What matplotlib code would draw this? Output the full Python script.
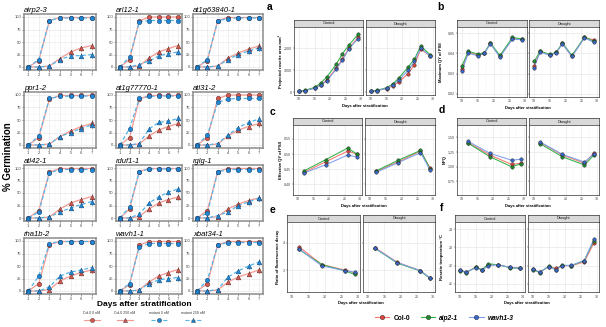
import matplotlib.pyplot as plt
from matplotlib.lines import Line2D
from matplotlib.ticker import MultipleLocator

plt.rcParams['font.family'] = ['Liberation Sans', 'DejaVu Sans']

W, H = 606, 327

# ---------------- germination data (left block) ----------------
days = [1, 2, 3, 4, 5, 6, 7]
genes = ['airp2-3', 'arl12-1', 'at1g63840-1',
         'ppr1-2', 'at1g77770-1', 'atl31-2',
         'atl42-1', 'rduf1-1', 'rglg-1',
         'rha1b-2', 'wavh1-1', 'xbat34-1']

col0_0nm = [
    [0, 13, 93, 99, 99, 99, 99], [0, 15, 92, 100, 100, 100, 100], [0, 13, 93, 99, 99, 99, 99],
    [0, 15, 92, 99, 99, 99, 99], [0, 15, 92, 99, 99, 99, 99], [0, 15, 93, 100, 100, 100, 100],
    [0, 15, 92, 99, 99, 99, 99], [0, 18, 93, 99, 99, 99, 99], [0, 15, 93, 99, 99, 99, 99],
    [0, 15, 93, 99, 99, 99, 99], [0, 13, 92, 99, 99, 99, 99], [0, 15, 92, 99, 99, 99, 99]]
col0_250nm = [
    [0, 0, 2, 17, 30, 38, 43], [0, 0, 2, 18, 30, 37, 43], [0, 0, 2, 18, 28, 36, 42],
    [0, 0, 2, 17, 28, 37, 43], [0, 0, 2, 18, 30, 37, 43], [0, 0, 2, 18, 30, 37, 43],
    [0, 0, 2, 18, 30, 37, 43], [0, 0, 3, 18, 30, 37, 42], [0, 0, 3, 18, 28, 35, 40],
    [0, 0, 3, 20, 30, 37, 42], [0, 0, 2, 18, 30, 37, 43], [0, 0, 2, 18, 28, 35, 42]]
mut_0nm = [
    [0, 15, 93, 98, 98, 98, 98], [0, 20, 90, 93, 93, 93, 93], [0, 15, 92, 97, 98, 98, 98],
    [0, 18, 93, 97, 98, 98, 98], [0, 33, 93, 97, 98, 98, 98], [0, 20, 85, 92, 93, 93, 93],
    [0, 12, 90, 97, 97, 97, 97], [0, 22, 93, 98, 98, 98, 98], [0, 10, 92, 97, 97, 97, 97],
    [0, 30, 95, 99, 99, 99, 99], [0, 15, 88, 95, 95, 95, 95], [0, 22, 92, 97, 97, 97, 97]]
mut_250nm = [
    [0, 0, 2, 15, 22, 23, 25], [0, 0, 5, 12, 22, 27, 30], [0, 0, 2, 15, 25, 32, 38],
    [0, 0, 2, 17, 25, 33, 40], [0, 0, 3, 32, 45, 48, 53], [0, 0, 3, 20, 35, 45, 52],
    [0, 0, 2, 12, 20, 27, 33], [0, 0, 8, 30, 42, 52, 58], [0, 0, 5, 12, 25, 32, 40],
    [0, 0, 8, 30, 38, 42, 47], [0, 0, 2, 15, 22, 25, 27], [0, 0, 3, 28, 40, 50, 58]]
err_0nm = [0, 4, 2, 1, 1, 1, 1]
err_250nm = [0, 0, 1, 3, 4, 5, 6]

# ---------------- phenotyping data (right block) ----------------
genotypes = ['Col-0', 'aip2-1', 'wavh1-3']

area_days = [10, 12, 15, 17, 19, 22, 24, 26, 29]
area_control = {'Col-0': [40, 80, 190, 340, 560, 1100, 1500, 1980, 2480],
                'aip2-1': [50, 95, 220, 420, 700, 1270, 1750, 2120, 2620],
                'wavh1-3': [40, 80, 180, 320, 520, 1050, 1450, 1950, 2420]}
area_drought = {'Col-0': [40, 80, 170, 290, 470, 850, 1250, 1950, 1650],
                'aip2-1': [50, 90, 210, 380, 650, 1150, 1500, 2100, 1700],
                'wavh1-3': [40, 80, 180, 330, 560, 1000, 1400, 2000, 1650]}

fvfm_days = [10, 12, 15, 17, 19, 22, 26, 29]
fvfm_control = {'Col-0': [0.8325, 0.8405, 0.8392, 0.8400, 0.8450, 0.8385, 0.8475, 0.8470],
                'aip2-1': [0.8340, 0.8410, 0.8398, 0.8402, 0.8452, 0.8390, 0.8480, 0.8472],
                'wavh1-3': [0.8315, 0.8402, 0.8388, 0.8400, 0.8448, 0.8382, 0.8472, 0.8468]}
fvfm_drought = {'Col-0': [0.8340, 0.8410, 0.8392, 0.8405, 0.8450, 0.8385, 0.8480, 0.8468],
                'aip2-1': [0.8360, 0.8412, 0.8395, 0.8405, 0.8452, 0.8390, 0.8482, 0.8460],
                'wavh1-3': [0.8330, 0.8408, 0.8390, 0.8403, 0.8448, 0.8385, 0.8478, 0.8455]}

fluo_days = [12, 19, 26, 29]
qy_control = {'Col-0': [0.440, 0.475, 0.510, 0.500],
              'aip2-1': [0.445, 0.482, 0.520, 0.500],
              'wavh1-3': [0.438, 0.465, 0.497, 0.490]}
qy_drought = {'Col-0': [0.443, 0.475, 0.510, 0.455],
              'aip2-1': [0.445, 0.480, 0.512, 0.452],
              'wavh1-3': [0.440, 0.472, 0.505, 0.448]}
npq_control = {'Col-0': [1.41, 1.20, 1.04, 1.06],
               'aip2-1': [1.40, 1.17, 1.00, 1.05],
               'wavh1-3': [1.43, 1.23, 1.11, 1.13]}
npq_drought = {'Col-0': [1.41, 1.20, 1.06, 1.24],
               'aip2-1': [1.39, 1.17, 1.03, 1.20],
               'wavh1-3': [1.42, 1.21, 1.08, 1.22]}
rfd_control = {'Col-0': [3.85, 3.20, 3.00, 2.90],
               'aip2-1': [3.75, 3.20, 2.97, 2.84],
               'wavh1-3': [3.78, 3.15, 2.98, 2.92]}
rfd_drought = {'Col-0': [3.82, 3.28, 2.98, 2.72],
               'aip2-1': [3.80, 3.25, 2.97, 2.70],
               'wavh1-3': [3.80, 3.27, 2.98, 2.72]}
temp_control = {'Col-0': [21.75, 21.65, 21.90, 21.75, 22.05, 22.05, 21.90, 21.88],
                'aip2-1': [21.72, 21.62, 21.92, 21.78, 22.10, 22.05, 21.88, 21.85],
                'wavh1-3': [21.75, 21.65, 21.88, 21.75, 22.00, 22.05, 21.90, 21.85]}
temp_drought = {'Col-0': [21.80, 21.65, 21.95, 21.85, 22.00, 22.00, 22.20, 23.25],
                'aip2-1': [21.78, 21.62, 21.98, 21.78, 22.02, 22.00, 22.28, 23.38],
                'wavh1-3': [21.80, 21.65, 21.95, 21.78, 22.00, 22.02, 22.28, 23.45]}

line_col = {'Col-0': '#F8766D', 'aip2-1': '#2DB34A', 'wavh1-3': '#7E9FEA'}
mark_col = {'Col-0': '#D8463F', 'aip2-1': '#1E8A2E', 'wavh1-3': '#3A68C9'}


def box(l, r, t, b):
    return [l / W, 1 - b / H, (r - l) / W, (b - t) / H]


fig = plt.figure(figsize=(W / 100, H / 100), dpi=100)

# ---------------- germination panels ----------------
col_x = [(24, 96), (116, 182), (193, 263)]
row_y = [(14, 70), (92, 148), (165, 221), (238, 294)]
red_line, red_mark = '#F39A92', '#D5564C'
blue_line, blue_mark = '#55B4EC', '#1F86D3'

for i, gene in enumerate(genes):
    r, c = divmod(i, 3)
    ax = fig.add_axes(box(col_x[c][0], col_x[c][1], row_y[r][0], row_y[r][1]))
    ax.plot(days, col0_0nm[i], color=red_line, lw=0.9, zorder=2)
    ax.plot(days, col0_250nm[i], color=red_line, lw=0.9, zorder=2)
    ax.plot(days, mut_0nm[i], color=blue_line, lw=0.9, ls=(0, (3, 2)), zorder=3)
    ax.plot(days, mut_250nm[i], color=blue_line, lw=0.9, ls=(0, (3, 2)), zorder=3)
    ax.errorbar(days, col0_0nm[i], yerr=err_0nm, fmt='o', ms=3.2, mfc=red_mark, mec='#5a2a25',
                mew=0.35, ecolor='#333333', elinewidth=0.45, capsize=0, zorder=4)
    ax.errorbar(days, col0_250nm[i], yerr=err_250nm, fmt='^', ms=3.4, mfc=red_mark, mec='#5a2a25',
                mew=0.35, ecolor='#333333', elinewidth=0.45, capsize=0, zorder=4)
    ax.errorbar(days, mut_0nm[i], yerr=err_0nm, fmt='o', ms=3.2, mfc=blue_mark, mec='#164a78',
                mew=0.35, ecolor='#333333', elinewidth=0.45, capsize=0, zorder=5)
    ax.errorbar(days, mut_250nm[i], yerr=err_250nm, fmt='^', ms=3.4, mfc=blue_mark, mec='#164a78',
                mew=0.35, ecolor='#333333', elinewidth=0.45, capsize=0, zorder=5)
    ax.set_xlim(0.6, 7.4)
    ax.set_ylim(-6, 106)
    ax.set_xticks(days)
    ax.set_yticks([0, 25, 50, 75, 100])
    ax.xaxis.set_minor_locator(MultipleLocator(0.5))
    ax.yaxis.set_minor_locator(MultipleLocator(12.5))
    ax.grid(True, which='major', color='#e6e6e6', lw=0.45)
    ax.grid(True, which='minor', color='#f2f2f2', lw=0.3)
    ax.set_axisbelow(True)
    ax.tick_params(labelsize=3, length=1.2, width=0.4, pad=0.8, colors='#444444')
    ax.tick_params(which='minor', length=0)
    for sp in ax.spines.values():
        sp.set_color('#8c8c8c')
        sp.set_linewidth(1.1)
    ax.set_title(gene, fontsize=5.5, fontstyle='italic', loc='left', pad=1.5)

fig.text(8 / W, 1 - 157 / H, '% Germination', rotation=90, fontsize=7, fontweight='bold',
         ha='center', va='center')
fig.text(144 / W, 1 - 304 / H, 'Days after stratification', fontsize=6, fontweight='bold',
         ha='center', va='center')

leg_items = [('Col-0 0 nM', 92, red_line, red_mark, 'o', '-'),
             ('Col-0 250 nM', 125, red_line, red_mark, '^', '-'),
             ('mutant 0 nM', 159, blue_line, blue_mark, 'o', '--'),
             ('mutant 250 nM', 193, blue_line, blue_mark, '^', '--')]
for label, xc, lc, mc, mk, ls in leg_items:
    fig.text(xc / W, 1 - 313.5 / H, label, fontsize=2.5, ha='center', va='center', color='#333333')
    fig.add_artist(Line2D([(xc - 8) / W, (xc + 8) / W], [1 - 320 / H] * 2, color=lc, lw=0.8,
                          ls=ls, transform=fig.transFigure))
    fig.add_artist(Line2D([xc / W], [1 - 320 / H], marker=mk, ms=3, mfc=mc, mec='#333333',
                          mew=0.3, transform=fig.transFigure))

# ---------------- phenotyping panels ----------------
panels = [
    ('a', area_days, area_control, area_drought, 'Projected rosette area mm²',
     (294, 363, 366, 435, 20, 27, 95), (-120, 2950), [0, 1000, 2000], '{:.0f}', (270, 7), 281),
    ('b', fvfm_days, fvfm_control, fvfm_drought, 'Maximum QY of PSII',
     (457, 527, 529, 599, 20, 27, 97), (0.8183, 0.8532), [0.82, 0.83, 0.84, 0.85], '{:.2f}', (440, 7), 441),
    ('c', fluo_days, qy_control, qy_drought, 'Effective QY of PSII',
     (293, 362, 365, 435, 118, 125, 195), (0.365, 0.596), [0.40, 0.45, 0.50, 0.55], '{:.2f}', (272, 112), 281),
    ('d', fluo_days, npq_control, npq_drought, 'NPQ',
     (457, 526, 529, 599, 118, 125, 195), (0.52, 1.71), [0.75, 1.00, 1.25, 1.50], '{:.2f}', (442, 110), 445),
    ('e', fluo_days, rfd_control, rfd_drought, 'Ratio of fluorescence decay',
     (287, 360, 363, 435, 215, 222, 292), (2.2, 4.75), [3, 4], '{:.0f}', (272, 210), 278),
    ('f', fvfm_days, temp_control, temp_drought, 'Rosette temperature °C',
     (455, 525, 528, 599, 215, 222, 292), (20.55, 24.4), [21, 22, 23, 24], '{:.0f}', (442, 208), 442),
]

for letter, xd, ctrl, drt, ylab, geo, ylim, yticks, fmt, lpos, ylx in panels:
    l1, r1, l2, r2, st, at, ab = geo
    for k, (cond, data, l, r) in enumerate([('Control', ctrl, l1, r1), ('Drought', drt, l2, r2)]):
        sax = fig.add_axes(box(l, r, st, at))
        sax.set_facecolor('#d9d9d9')
        sax.set_xticks([])
        sax.set_yticks([])
        for sp in sax.spines.values():
            sp.set_color('#333333')
            sp.set_linewidth(0.5)
        sax.text(0.5, 0.5, cond, fontsize=2.8, ha='center', va='center', color='#1a1a1a',
                 transform=sax.transAxes)

        ax = fig.add_axes(box(l, r, at, ab))
        for g in genotypes:
            ax.plot(xd, data[g], color=line_col[g], lw=0.75, zorder=2)
            ax.plot(xd, data[g], 'o', ms=2.5, mfc=mark_col[g], mec='#222222', mew=0.3, zorder=3)
        ax.set_xlim(8.4, 30.6)
        ax.set_ylim(*ylim)
        ax.set_xticks([10, 15, 20, 25, 30])
        ax.set_yticks(yticks)
        ax.set_yticklabels([fmt.format(v) for v in yticks])
        ax.xaxis.set_minor_locator(MultipleLocator(2.5))
        ax.grid(True, which='major', color='#e3e3e3', lw=0.4)
        ax.grid(True, which='minor', color='#f1f1f1', lw=0.3)
        ax.set_axisbelow(True)
        ax.tick_params(labelsize=2.6, length=1.0, width=0.35, pad=0.8, colors='#444444')
        ax.tick_params(which='minor', length=0)
        if k == 1:
            ax.tick_params(labelleft=False)
        for sp in ax.spines.values():
            sp.set_color('#333333')
            sp.set_linewidth(0.5)

    fig.text(((l1 + r2) / 2) / W, 1 - (ab + 11) / H, 'Days after stratification', fontsize=3,
             fontweight='bold', ha='center', va='center')
    fig.text(ylx / W, 1 - ((at + ab) / 2) / H, ylab, fontsize=3, fontweight='bold',
             rotation=90, ha='center', va='center')
    fig.text(lpos[0] / W, 1 - lpos[1] / H, letter, fontsize=7.5, fontweight='bold',
             ha='center', va='center')

handles = [Line2D([], [], color=line_col[g], lw=0.8, marker='o', ms=3.2, mfc=mark_col[g],
                  mec='#222222', mew=0.3) for g in genotypes]
leg = fig.legend(handles, genotypes, loc='center', bbox_to_anchor=(444 / W, 1 - 318 / H),
                 ncol=3, frameon=False, fontsize=4.8, handlelength=2.2, columnspacing=1.6,
                 handletextpad=0.6)
for t in leg.get_texts():
    t.set_fontweight('bold')
    if t.get_text() != 'Col-0':
        t.set_fontstyle('italic')

fig.savefig('out.png', dpi=100)
